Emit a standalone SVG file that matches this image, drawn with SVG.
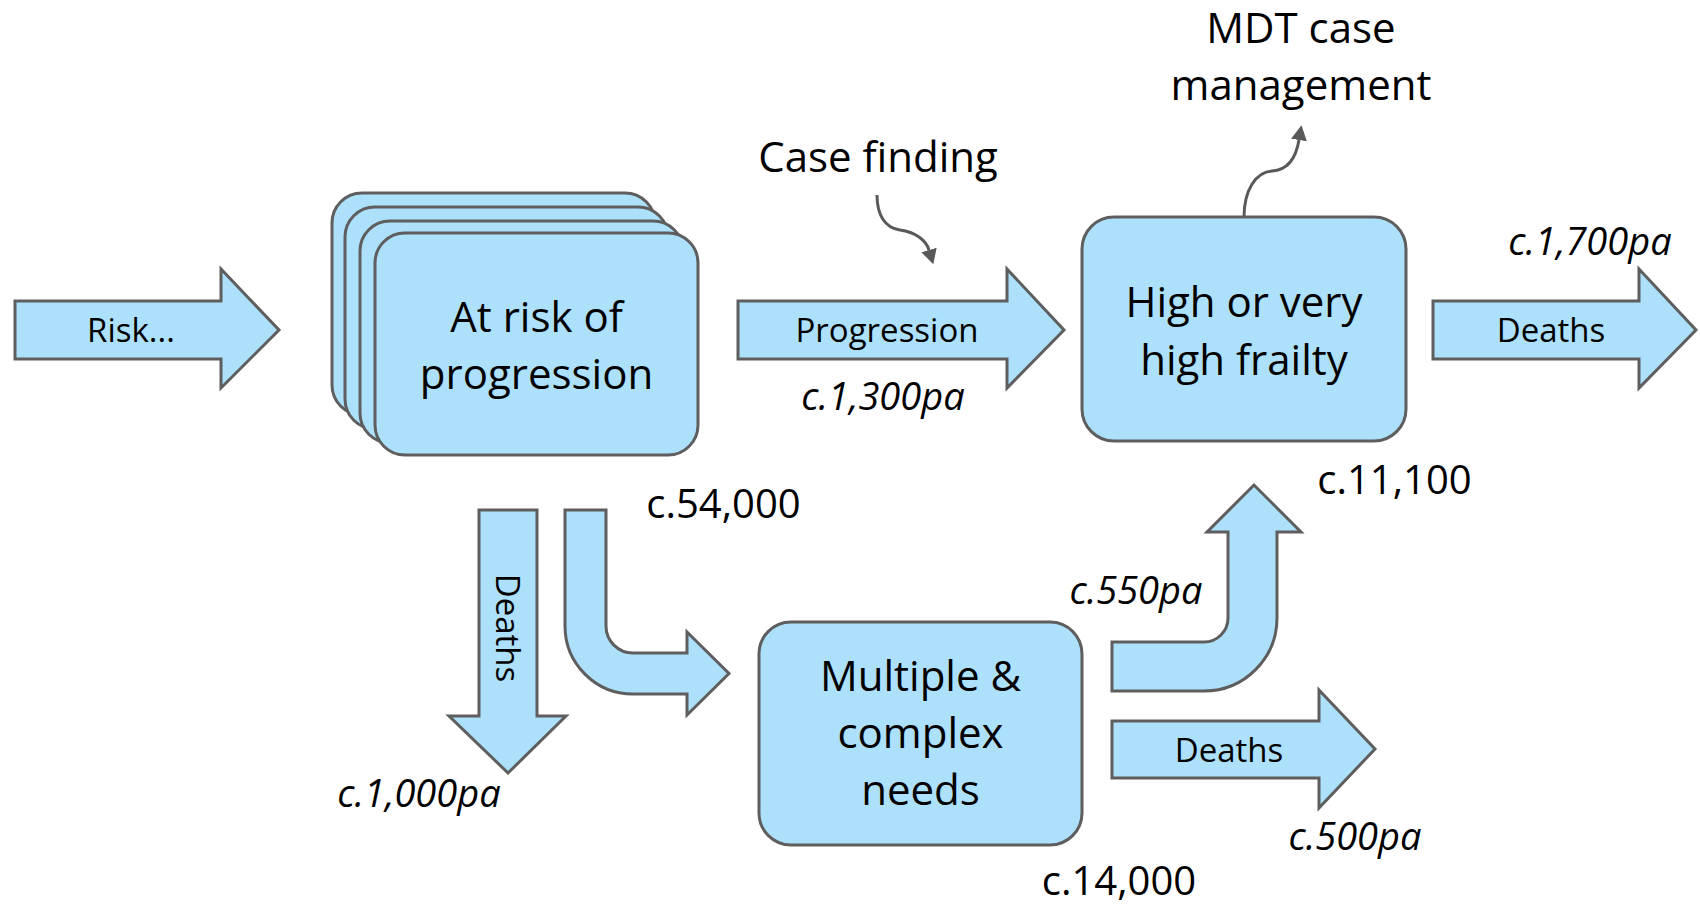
<svg xmlns="http://www.w3.org/2000/svg" width="1700" height="907" viewBox="0 0 1700 907">
  <defs>
    <style>
      .box { fill: #ADE0FB; stroke: #5E5E5E; stroke-width: 3; }
      .blk { fill: #ADE0FB; stroke: #5E5E5E; stroke-width: 3; stroke-linejoin: miter; }
      .conn { fill: none; stroke: #595959; stroke-width: 3; }
      .t { font-family: "Open Sans", "Noto Sans", "Liberation Sans", sans-serif; fill: #000; text-anchor: middle; }
      .big { font-size: 42px; }
      .lbl { font-size: 33px; }
      .num { font-size: 40px; }
      .it { font-size: 38px; font-style: italic; }
    </style>
    <marker id="ah" markerUnits="userSpaceOnUse" markerWidth="16" markerHeight="16" refX="0" refY="8" orient="auto">
      <path d="M0,0 L15,8 L0,16 Z" fill="#595959"/>
    </marker>
  </defs>
  <rect width="1700" height="907" fill="#fff"/>

  <g id="connectors">
    <path id="arrow-risk" class="blk" d="M15,301 L221,301 L221,269 L279,330 L221,388 L221,359 L15,359 Z"/>
    <path id="arrow-progression" class="blk" d="M738,301 L1007,301 L1007,269 L1064,330 L1007,388 L1007,359 L738,359 Z"/>
    <path id="arrow-deaths-high" class="blk" d="M1433,301 L1639,301 L1639,269 L1696,330 L1639,388 L1639,359 L1433,359 Z"/>
    <path id="arrow-deaths-down" class="blk" d="M479,510 L537,510 L537,716 L566,716 L508,773 L449,716 L479,716 Z"/>
    <path id="arrow-to-multiple" class="blk" d="M565,510 L606,510 L606,626 A27,27 0 0 0 633,653 L687,653 L687,632 L729,673.5 L687,715 L687,694 L633,694 A68,68 0 0 1 565,626 Z"/>
    <path id="arrow-to-high" class="blk" d="M1112,642 L1204,642 A24,24 0 0 0 1228,618 L1228,532 L1207,532 L1254,485 L1301,532 L1277,532 L1277,618 A73,73 0 0 1 1204,691 L1112,691 Z"/>
    <path id="arrow-deaths-multiple" class="blk" d="M1112,721 L1319,721 L1319,690 L1375,749 L1319,808 L1319,778 L1112,778 Z"/>
    <path id="case-finding-link" class="conn" marker-end="url(#ah)" d="M877,195 C877,215 885,228 900,230 C915,232 926,240 929,250"/>
    <path id="mdt-link" class="conn" marker-end="url(#ah)" d="M1244,217 C1244,190 1256,172 1272,171 C1288,170 1296,158 1299,140"/>
  </g>

  <g id="node-at-risk">
    <rect class="box" x="332" y="193" width="323" height="222" rx="30"/>
    <rect class="box" x="345" y="207" width="323" height="222" rx="30"/>
    <rect class="box" x="360" y="221" width="323" height="222" rx="30"/>
    <rect class="box" x="375" y="233" width="323" height="222" rx="30"/>
    <text class="t big" x="536.5" y="331.5">At risk of</text>
    <text class="t big" x="536.5" y="388.5">progression</text>
  </g>

  <g id="node-high-frailty">
    <rect class="box" x="1082" y="217" width="324" height="224" rx="32"/>
    <text class="t big" x="1244" y="316.5">High or very</text>
    <text class="t big" x="1244" y="375">high frailty</text>
  </g>

  <g id="node-multiple">
    <rect class="box" x="759" y="622" width="323" height="223" rx="32"/>
    <text class="t big" x="920.5" y="690.5">Multiple &amp;</text>
    <text class="t big" x="920.5" y="748">complex</text>
    <text class="t big" x="920.5" y="805">needs</text>
  </g>

  <g id="labels">
    <text class="t lbl" x="131" y="342">Risk...</text>
    <text class="t lbl" x="887" y="342">Progression</text>
    <text class="t lbl" x="1551" y="342">Deaths</text>
    <text class="t lbl" x="1229" y="762">Deaths</text>
    <text class="t lbl" transform="translate(507,628) rotate(90)" x="0" y="11">Deaths</text>
    <text class="t big" x="878" y="172">Case finding</text>
    <text class="t big" x="1301" y="43">MDT case</text>
    <text class="t big" x="1301" y="99.5">management</text>
    <text class="t num" x="723.5" y="518">c.54,000</text>
    <text class="t num" x="1394.5" y="494">c.11,100</text>
    <text class="t num" x="1119" y="895">c.14,000</text>
    <text class="t it" x="883" y="410">c.1,300pa</text>
    <text class="t it" x="1590" y="255">c.1,700pa</text>
    <text class="t it" x="1136" y="604">c.550pa</text>
    <text class="t it" x="1355" y="850">c.500pa</text>
    <text class="t it" x="419" y="807">c.1,000pa</text>
  </g>
</svg>
